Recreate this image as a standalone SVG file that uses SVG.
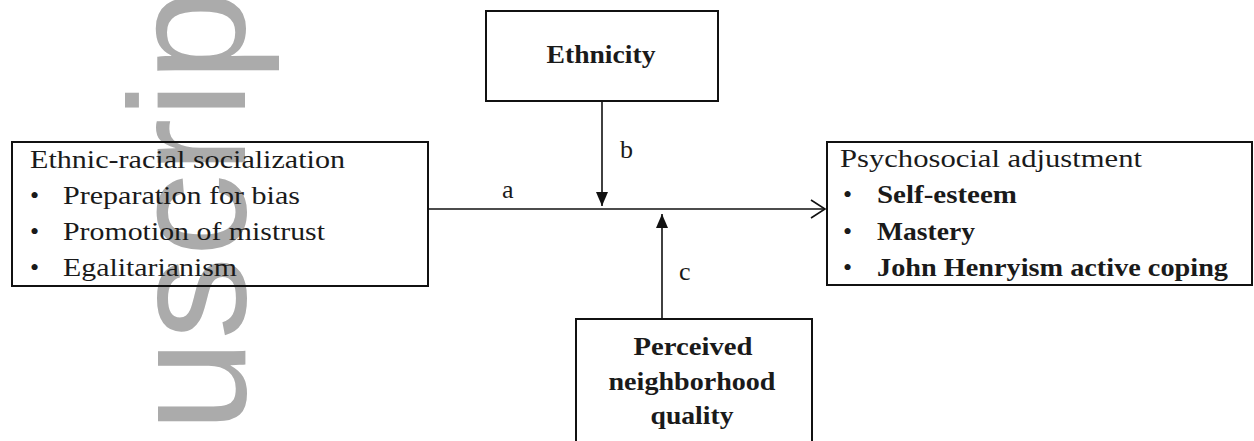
<svg xmlns="http://www.w3.org/2000/svg" width="1254" height="441" viewBox="0 0 1254 441">
<style>
.box{fill:#fff;stroke:#111;stroke-width:2}
.t{font-family:"Liberation Serif","Times New Roman",serif;font-size:26px;fill:#1a1a1a}
.b{font-weight:bold}
.c{text-anchor:middle}
.ln{stroke:#111;stroke-width:1.6;fill:none}
.wm{font-family:"Liberation Sans",Arial,sans-serif;font-size:166px;fill:#ababab}
</style>
<defs>
<marker id="fill" markerWidth="14" markerHeight="12" refX="14" refY="6" orient="auto" markerUnits="userSpaceOnUse" viewBox="0 0 14 12">
<path d="M0,0 L14,6 L0,12 Z" fill="#111"/>
</marker>
</defs>
<rect width="1254" height="441" fill="#fff"/>
<g id="watermark">
<text class="wm" transform="translate(245,432) rotate(-90)">uscrip</text>
</g>
<g id="node-ers">
<rect class="box" x="12" y="142" width="416" height="144" style="fill:none"/>
<text class="t" x="30" y="168" textLength="315" lengthAdjust="spacingAndGlyphs">Ethnic-racial socialization</text>
<text class="t" x="30" y="204">•</text><text class="t" x="63" y="204" textLength="237" lengthAdjust="spacingAndGlyphs">Preparation for bias</text>
<text class="t" x="30" y="240">•</text><text class="t" x="63" y="240" textLength="262" lengthAdjust="spacingAndGlyphs">Promotion of mistrust</text>
<text class="t" x="30" y="276">•</text><text class="t" x="63" y="276" textLength="174" lengthAdjust="spacingAndGlyphs">Egalitarianism</text>
</g>
<g id="node-ethnicity">
<rect class="box" x="486" y="11" width="232" height="90"/>
<text class="t b c" x="601" y="63" textLength="109" lengthAdjust="spacingAndGlyphs">Ethnicity</text>
</g>
<g id="node-psa">
<rect class="box" x="827" y="142" width="425" height="143"/>
<text class="t" x="840" y="167" textLength="302" lengthAdjust="spacingAndGlyphs">Psychosocial adjustment</text>
<text class="t" x="843" y="203">•</text><text class="t b" x="877" y="203" textLength="140" lengthAdjust="spacingAndGlyphs">Self-esteem</text>
<text class="t" x="843" y="240">•</text><text class="t b" x="877" y="240" textLength="98" lengthAdjust="spacingAndGlyphs">Mastery</text>
<text class="t" x="843" y="276">•</text><text class="t b" x="877" y="276" textLength="351" lengthAdjust="spacingAndGlyphs">John Henryism active coping</text>
</g>
<g id="node-pnq">
<rect class="box" x="576" y="319" width="236" height="130"/>
<text class="t b c" x="693" y="355" textLength="119" lengthAdjust="spacingAndGlyphs">Perceived</text>
<text class="t b c" x="692" y="390" textLength="167" lengthAdjust="spacingAndGlyphs">neighborhood</text>
<text class="t b c" x="692" y="424" textLength="83" lengthAdjust="spacingAndGlyphs">quality</text>
</g>
<g id="connectors">
<line class="ln" x1="428" y1="209" x2="825" y2="209"/>
<polyline class="ln" points="811,200 825,209 811,218"/>
<line class="ln" x1="602" y1="101" x2="602" y2="206" marker-end="url(#fill)"/>
<line class="ln" x1="662" y1="319" x2="662" y2="214" marker-end="url(#fill)"/>
<text class="t" x="502" y="198">a</text>
<text class="t" x="620" y="158">b</text>
<text class="t" x="679" y="280">c</text>
</g>
</svg>
